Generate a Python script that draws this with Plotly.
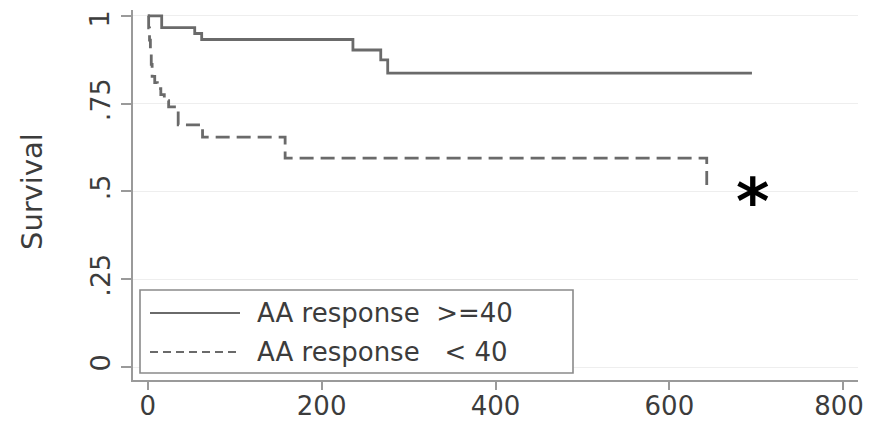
import plotly.graph_objects as go

# ---- data (Kaplan-Meier steps) ----
t_hi = [0, 16, 54, 62, 236, 268, 276, 695]
s_hi = [1.0, 0.967, 0.950, 0.933, 0.903, 0.875, 0.837, 0.837]

t_lo = [0, 1, 2, 3, 4, 5, 8, 11, 15, 19, 24, 35, 63, 158, 643]
s_lo = [1.0, 0.966, 0.931, 0.897, 0.862, 0.828, 0.810, 0.793, 0.776, 0.759, 0.741, 0.690, 0.655, 0.595, 0.500]

series_names = ["AA response\u00a0\u00a0>=40", "AA response\u00a0\u00a0\u00a0< 40"]
x_ticks = [0, 200, 400, 600, 800]
x_ticktext = ["0", "200", "400", "600", "800\u00a0"]
y_ticks = [0, 0.25, 0.5, 0.75, 1]
y_ticktext = ["0", ".25", ".5", ".75", "1"]
y_title = "Survival"
mark_text = "<b>*</b>"
mark_x, mark_y = 696, 0.494

# ---- layout geometry (page pixels; the page body adds an 8px margin) ----
OFF = 8
W, H = 871 - OFF, 422 - OFF
L, R, T, B = 133 - OFF, 13, 10 - OFF, 42
PW, PH = W - L - R, H - T - B

def px_x(px):
    return (px - OFF - L) / PW

def px_y(py):
    return (T + PH - (py - OFF)) / PH

FONT = "DejaVu Sans"
LINE_COL = "#6a6a6a"
TXT_COL = "#3c3c3c"

fig = go.Figure()
fig.add_trace(go.Scatter(x=t_hi, y=s_hi, mode="lines", line_shape="hv",
                         line=dict(color=LINE_COL, width=2.8), name=series_names[0],
                         showlegend=False))
fig.add_trace(go.Scatter(x=t_lo, y=s_lo, mode="lines", line_shape="hv",
                         line=dict(color=LINE_COL, width=2.8, dash="14px,7px"),
                         name=series_names[1], showlegend=False))

shapes = []
annotations = []

# legend box (manual, Stata style)
shapes.append(dict(type="rect", xref="paper", yref="paper",
                   x0=px_x(140), x1=px_x(573), y0=px_y(373), y1=px_y(290),
                   line=dict(color="#8a8a8a", width=1.6), fillcolor="white", layer="above"))
rows_y = [313, 352]
dashes = ["solid", "8px,5px"]
for name, ry, dsh in zip(series_names, rows_y, dashes):
    shapes.append(dict(type="line", xref="paper", yref="paper",
                       x0=px_x(150), x1=px_x(240), y0=px_y(ry), y1=px_y(ry),
                       line=dict(color=LINE_COL, width=2, dash=dsh), layer="above"))
    annotations.append(dict(text=name, xref="paper", yref="paper",
                            x=px_x(255), y=px_y(ry), xanchor="left", yanchor="middle",
                            showarrow=False, font=dict(family=FONT, size=26, color=TXT_COL)))

# y title
annotations.append(dict(text=y_title, xref="paper", yref="paper",
                        x=px_x(32), y=px_y(192), xanchor="center", yanchor="middle",
                        textangle=-90, showarrow=False,
                        font=dict(family=FONT, size=29, color=TXT_COL)))

# top y tick label placed so it stays inside the page
axis_ticktext = y_ticktext[:-1] + [""]
annotations.append(dict(text=y_ticktext[-1], xref="paper", yref="paper",
                        x=px_x(99), y=px_y(9), xanchor="center", yanchor="top",
                        textangle=-90, showarrow=False,
                        font=dict(family=FONT, size=27, color=TXT_COL)))

# asterisk
annotations.append(dict(text=mark_text, x=mark_x, y=mark_y, xref="x", yref="y",
                        xanchor="center", yanchor="middle", yshift=-8,
                        showarrow=False, font=dict(family=FONT, size=64, color="black")))

fig.update_layout(
    width=W, height=H,
    margin=dict(l=L, r=R, t=T, b=B, autoexpand=False),
    paper_bgcolor="white", plot_bgcolor="white",
    showlegend=False,
    shapes=shapes, annotations=annotations,
    xaxis=dict(range=[-17, 817], tickvals=x_ticks, ticktext=x_ticktext,
               showgrid=False, zeroline=False,
               automargin=False, ticklabeloverflow="allow", ticklabelstandoff=-6,
               showline=True, linecolor="#9a9a9a", linewidth=2,
               ticks="outside", ticklen=8, tickcolor="#9a9a9a", tickwidth=1.5,
               tickfont=dict(family=FONT, size=26, color=TXT_COL)),
    yaxis=dict(range=[-0.037, 1.017], tickvals=y_ticks, ticktext=axis_ticktext,
               automargin=False, ticklabeloverflow="allow",
               showgrid=True, gridcolor="#eeeeee", gridwidth=1, zeroline=False,
               showline=True, linecolor="#9a9a9a", linewidth=2,
               ticks="outside", ticklen=10, tickcolor="#9a9a9a", tickwidth=1.5,
               tickangle=-90,
               tickfont=dict(family=FONT, size=27, color=TXT_COL)),
)

fig.write_html("out.html")
